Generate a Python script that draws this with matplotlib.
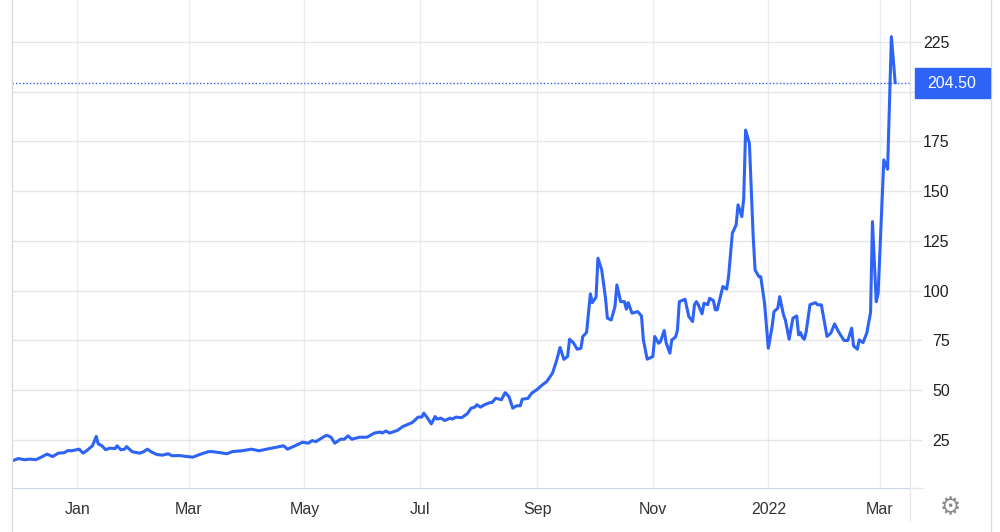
import matplotlib
matplotlib.use("Agg")
import matplotlib.pyplot as plt
from matplotlib.lines import Line2D
import pandas as pd

# TTF gas price
dates = [
    "2020-11-28", "2020-12-01", "2020-12-04", "2020-12-07", "2020-12-10", "2020-12-13",
    "2020-12-16", "2020-12-19", "2020-12-22", "2020-12-25", "2020-12-27", "2020-12-29",
    "2021-01-02", "2021-01-04", "2021-01-06", "2021-01-09", "2021-01-11", "2021-01-12",
    "2021-01-14", "2021-01-16", "2021-01-18", "2021-01-21", "2021-01-22", "2021-01-24",
    "2021-01-26", "2021-01-27", "2021-01-30", "2021-02-03", "2021-02-05", "2021-02-07",
    "2021-02-09", "2021-02-12", "2021-02-15", "2021-02-18", "2021-02-20", "2021-02-24",
    "2021-02-28", "2021-03-03", "2021-03-06", "2021-03-11", "2021-03-13", "2021-03-17",
    "2021-03-21", "2021-03-24", "2021-03-29", "2021-04-03", "2021-04-07", "2021-04-12",
    "2021-04-18", "2021-04-20", "2021-04-22", "2021-04-26", "2021-04-30", "2021-05-03",
    "2021-05-05", "2021-05-07", "2021-05-12", "2021-05-13", "2021-05-15", "2021-05-17",
    "2021-05-20", "2021-05-22", "2021-05-24", "2021-05-26", "2021-05-30", "2021-06-03",
    "2021-06-07", "2021-06-10", "2021-06-11", "2021-06-13", "2021-06-15", "2021-06-19",
    "2021-06-22", "2021-06-24", "2021-06-27", "2021-06-30", "2021-07-02", "2021-07-03",
    "2021-07-05", "2021-07-07", "2021-07-09", "2021-07-10", "2021-07-12", "2021-07-14",
    "2021-07-17", "2021-07-18", "2021-07-20", "2021-07-23", "2021-07-26", "2021-07-28",
    "2021-07-30", "2021-07-31", "2021-08-02", "2021-08-04", "2021-08-07", "2021-08-08",
    "2021-08-10", "2021-08-13", "2021-08-15", "2021-08-17", "2021-08-19", "2021-08-21",
    "2021-08-23", "2021-08-24", "2021-08-27", "2021-08-29", "2021-09-01", "2021-09-03",
    "2021-09-06", "2021-09-09", "2021-09-11", "2021-09-13", "2021-09-15", "2021-09-17",
    "2021-09-18", "2021-09-20", "2021-09-22", "2021-09-24", "2021-09-25", "2021-09-27",
    "2021-09-29", "2021-09-30", "2021-10-02", "2021-10-03", "2021-10-05", "2021-10-07",
    "2021-10-08", "2021-10-10", "2021-10-12", "2021-10-13", "2021-10-15", "2021-10-17",
    "2021-10-18", "2021-10-19", "2021-10-21", "2021-10-24", "2021-10-26", "2021-10-27",
    "2021-10-29", "2021-11-01", "2021-11-02", "2021-11-04", "2021-11-05", "2021-11-07",
    "2021-11-08", "2021-11-10", "2021-11-11", "2021-11-13", "2021-11-14", "2021-11-15",
    "2021-11-18", "2021-11-20", "2021-11-22", "2021-11-23", "2021-11-24", "2021-11-25",
    "2021-11-27", "2021-11-28", "2021-11-30", "2021-12-01", "2021-12-03", "2021-12-04",
    "2021-12-05", "2021-12-08", "2021-12-10", "2021-12-11", "2021-12-13", "2021-12-15",
    "2021-12-16", "2021-12-18", "2021-12-19", "2021-12-20", "2021-12-22", "2021-12-24",
    "2021-12-25", "2021-12-27", "2021-12-28", "2021-12-30", "2022-01-01", "2022-01-03",
    "2022-01-04", "2022-01-06", "2022-01-07", "2022-01-09", "2022-01-10", "2022-01-12",
    "2022-01-14", "2022-01-16", "2022-01-17", "2022-01-18", "2022-01-19", "2022-01-20",
    "2022-01-21", "2022-01-23", "2022-01-26", "2022-01-27", "2022-01-29", "2022-02-01",
    "2022-02-03", "2022-02-05", "2022-02-07", "2022-02-10", "2022-02-12", "2022-02-14",
    "2022-02-15", "2022-02-17", "2022-02-18", "2022-02-20", "2022-02-22", "2022-02-24",
    "2022-02-25", "2022-02-27", "2022-02-28", "2022-03-03", "2022-03-05", "2022-03-07",
    "2022-03-09",
]
prices = [
    14.7, 15.7, 15.1, 15.4, 15.1, 16.4,
    17.9, 16.7, 18.4, 18.6, 19.7, 19.6,
    20.4, 18.4, 19.7, 22.1, 26.8, 23.1,
    22.1, 20.1, 20.9, 20.7, 22.1, 20.1,
    20.4, 21.7, 19.1, 18.4, 19.1, 20.4,
    19.1, 17.7, 17.4, 18.1, 17.1, 17.2,
    16.7, 16.4, 17.5, 19.1, 19.2, 18.7,
    18.1, 19.2, 19.6, 20.4, 19.6, 20.6,
    21.7, 22.1, 20.4, 22.1, 23.9, 23.4,
    24.7, 24.2, 27.1, 27.3, 26.4, 23.4,
    25.4, 25.4, 27.1, 25.4, 26.4, 26.4,
    28.5, 29.0, 28.5, 29.5, 28.5, 29.8,
    31.8, 32.6, 33.8, 36.5, 36.5, 38.5,
    36.0, 33.1, 36.8, 35.5, 36.0, 34.8,
    36.0, 35.5, 36.5, 36.2, 38.2, 41.0,
    41.5, 42.7, 41.5, 42.7, 43.8, 43.8,
    46.0, 45.2, 48.8, 46.8, 41.0, 42.2,
    42.2, 45.5, 45.9, 48.5, 50.5, 52.2,
    54.4, 58.6, 64.4, 71.5, 65.5, 67.0,
    75.6, 73.9, 70.6, 71.1, 77.0, 79.0,
    98.4, 94.0, 96.7, 116.3, 110.4, 96.2,
    86.2, 85.3, 92.0, 102.9, 94.5, 94.5,
    90.7, 94.0, 88.7, 89.5, 87.3, 75.3,
    65.6, 66.9, 77.0, 73.6, 74.4, 80.0,
    73.9, 68.6, 75.3, 76.7, 80.3, 94.5,
    95.7, 87.0, 84.5, 93.0, 94.5, 92.9,
    88.4, 93.7, 93.0, 96.2, 95.0, 90.4,
    90.4, 102.1, 100.8, 107.1, 128.9, 133.0,
    143.1, 137.2, 146.4, 180.7, 174.0, 127.2,
    110.4, 107.1, 107.0, 93.7, 71.1, 82.0,
    89.5, 91.2, 97.0, 87.9, 85.3, 75.6,
    86.2, 87.3, 77.8, 79.0, 76.5, 75.6,
    79.5, 93.0, 94.0, 92.9, 92.9, 77.0,
    78.7, 83.3, 79.5, 75.0, 75.0, 81.2,
    72.3, 70.6, 75.3, 73.9, 78.7, 89.0,
    134.7, 94.5, 98.7, 165.7, 161.0, 227.6,
    204.5,
]
last_value = 204.50

tick_dates = ["2021-01-01", "2021-03-01", "2021-05-01", "2021-07-01",
              "2021-09-01", "2021-11-01", "2022-01-01", "2022-03-01"]
tick_labels = ["Jan", "Mar", "May", "Jul", "Sep", "Nov", "2022", "Mar"]
y_ticks = [25, 50, 75, 100, 125, 150, 175, 200, 225]
# the 200 label sits under the last-price tag, so it is not shown
y_tick_labels = ["25", "50", "75", "100", "125", "150", "175", "", "225"]

plt.rcParams["font.family"] = ["Liberation Sans", "DejaVu Sans"]

blue = "#2d63f6"
x = pd.to_datetime(dates)

fig = plt.figure(figsize=(10, 5.32), dpi=100)
ax = fig.add_axes([0.012, 1 - 488 / 532, 0.898, 488 / 532])

ax.plot(x, prices, color=blue, lw=2.2, solid_joinstyle="round", zorder=3)
ax.axhline(last_value, color=blue, lw=1, ls=(0, (1, 1.5)), zorder=2)

ax.set_xlim(pd.Timestamp("2020-11-27 12:00"), pd.Timestamp("2022-03-16 20:00"))
ax.set_ylim(0.9, 246)

ax.set_xticks(pd.to_datetime(tick_dates))
ax.set_xticklabels(tick_labels)
ax.set_yticks(y_ticks)
ax.set_yticklabels(y_tick_labels)
ax.yaxis.tick_right()

ax.grid(axis="x", color="#e9eef5", lw=1)
ax.grid(axis="y", color="#e6e6e6", lw=1)
ax.set_axisbelow(True)

for s in ["top", "left", "right"]:
    ax.spines[s].set_visible(False)
ax.spines["bottom"].set_color("#ccd6eb")

ax.tick_params(axis="x", length=0, pad=10, labelsize=11.5, labelcolor="#333333")
ax.tick_params(axis="y", length=8.6, width=1, color="#e6e6e6", pad=20,
               labelsize=11.5, labelcolor="#222222")
for lab in ax.get_yticklabels():
    lab.set_ha("right")

# frame lines of the widget
fig.add_artist(Line2D([12 / 1000, 12 / 1000], [0, 1], color="#dcdcdc", lw=1))
fig.add_artist(Line2D([910 / 1000, 910 / 1000], [1 - 520 / 532, 1], color="#e6e6e6", lw=1))
fig.add_artist(Line2D([991 / 1000, 991 / 1000], [0, 1], color="#dcdcdc", lw=1))
fig.add_artist(Line2D([910 / 1000, 922 / 1000], [1 - 488 / 532, 1 - 488 / 532], color="#e6e6e6", lw=1))

# last price tag
fig.patches.append(plt.Rectangle((915 / 1000, 1 - 98 / 532), 75 / 1000, 30 / 532,
                                 transform=fig.transFigure, color=blue, zorder=5))
fig.text(952 / 1000, 1 - 83 / 532, f"{last_value:.2f}", color="white", fontsize=11.5,
         ha="center", va="center", zorder=6)

# settings icon
fig.text(950 / 1000, 1 - 507 / 532, "\u2699", family="DejaVu Sans", color="#8a8a8a",
         fontsize=17, ha="center", va="center")

fig.savefig("out.png", dpi=100)
